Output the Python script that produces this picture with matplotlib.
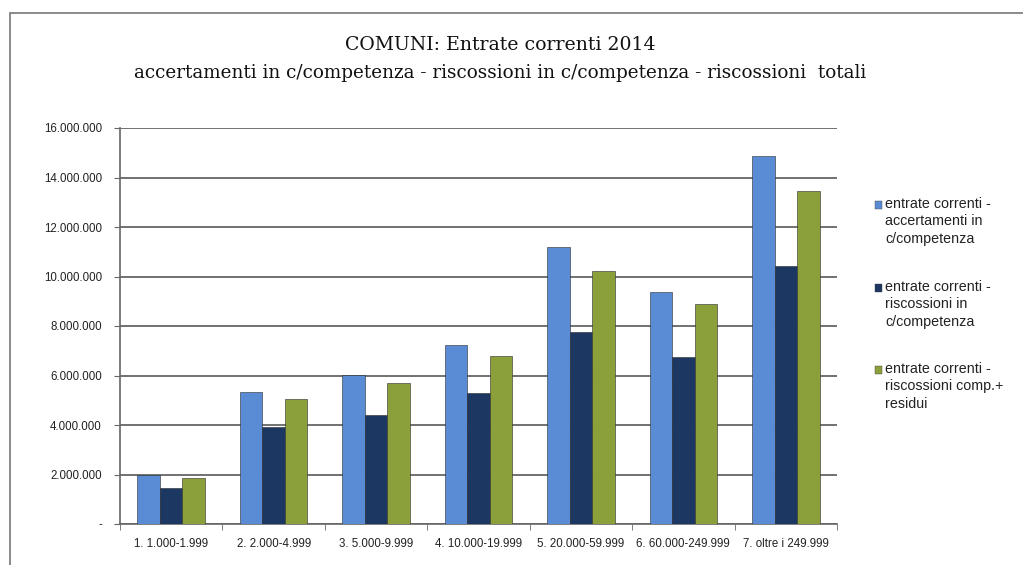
import numpy as np
import matplotlib.pyplot as plt
from matplotlib.ticker import FuncFormatter, FixedLocator
from matplotlib.patches import Rectangle

classi = ["1. 1.000-1.999", "2. 2.000-4.999", "3. 5.000-9.999", "4. 10.000-19.999",
          "5. 20.000-59.999", "6. 60.000-249.999", "7. oltre i 249.999"]

accertamenti = [2.00e6, 5.33e6, 6.02e6, 7.23e6, 11.19e6, 9.37e6, 14.87e6]
riscossioni_comp = [1.47e6, 3.92e6, 4.40e6, 5.30e6, 7.77e6, 6.75e6, 10.42e6]
riscossioni_tot = [1.87e6, 5.05e6, 5.70e6, 6.80e6, 10.22e6, 8.90e6, 13.45e6]

nomi = ["entrate correnti -\naccertamenti in\nc/competenza",
        "entrate correnti -\nriscossioni in\nc/competenza",
        "entrate correnti -\nriscossioni comp.+\nresidui"]
colori = ["#5a8cd6", "#1d3763", "#8b9f3a"]
valori = [accertamenti, riscossioni_comp, riscossioni_tot]

W, H = 1023, 565
fig = plt.figure(figsize=(W / 100, H / 100), dpi=100)
fig.patch.set_facecolor("white")

# bordo esterno del grafico
fig.patches.append(Rectangle((10 / W, -0.1), 1.2, 1 - 13 / H + 0.1,
                             transform=fig.transFigure, fill=False,
                             edgecolor="#777777", linewidth=1.2))

ax = fig.add_axes([120 / W, 1 - 524 / H, (837 - 120) / W, (524 - 128) / H])

x = np.arange(len(classi))
bw = 0.22
for i, (vals, col) in enumerate(zip(valori, colori)):
    ax.bar(x + (i - 1) * bw, vals, bw, color=col, edgecolor="#2a2a2a",
           linewidth=0.4, zorder=3)

ax.set_xlim(-0.5, len(classi) - 0.5)
ax.set_ylim(0, 16e6)
ax.set_yticks(np.arange(0, 16.5e6, 2e6))
ax.yaxis.set_major_formatter(FuncFormatter(
    lambda v, p: "-" if v == 0 else f"{int(v):,}".replace(",", ".")))
ax.grid(axis="y", color="#666666", linewidth=1.3, zorder=0)

ax.set_xticks(x)
ax.set_xticklabels(classi, fontsize=8.3, family="Liberation Sans", color="#222222")
ax.xaxis.set_minor_locator(FixedLocator(np.arange(-0.5, len(classi), 1)))
ax.tick_params(axis="x", which="major", length=0, pad=10)
ax.tick_params(axis="x", which="minor", length=4, color="#666666")
ax.tick_params(axis="y", length=4, color="#666666", labelsize=8.3, pad=9)
for t in ax.get_yticklabels():
    t.set_family("Liberation Sans")
    t.set_color("#222222")

for s in ["top", "right"]:
    ax.spines[s].set_visible(False)
for s in ["left", "bottom"]:
    ax.spines[s].set_color("#666666")
    ax.spines[s].set_linewidth(1.2)

fig.text(0.489, 1 - 45 / H, "COMUNI: Entrate correnti 2014", ha="center", va="center",
         fontsize=13.6, family="DejaVu Serif", color="#111111")
fig.text(0.489, 1 - 73 / H,
         "accertamenti in c/competenza - riscossioni in c/competenza - riscossioni  totali",
         ha="center", va="center", fontsize=13.2, family="DejaVu Serif", color="#111111")

# legenda: quadratino allineato alla prima riga del testo
leg_y = [205, 288, 370]
for nome, col, yy in zip(nomi, colori, leg_y):
    fig.patches.append(Rectangle((875 / W, 1 - (yy + 4) / H), 7 / W, 8 / H,
                                 transform=fig.transFigure, facecolor=col,
                                 edgecolor="#444444", linewidth=0.3))
    fig.text(885 / W, 1 - (yy - 8) / H, nome, ha="left", va="top",
             fontsize=10.3, family="Liberation Sans", color="#222222",
             linespacing=1.3)

fig.savefig("out.png", dpi=100)
